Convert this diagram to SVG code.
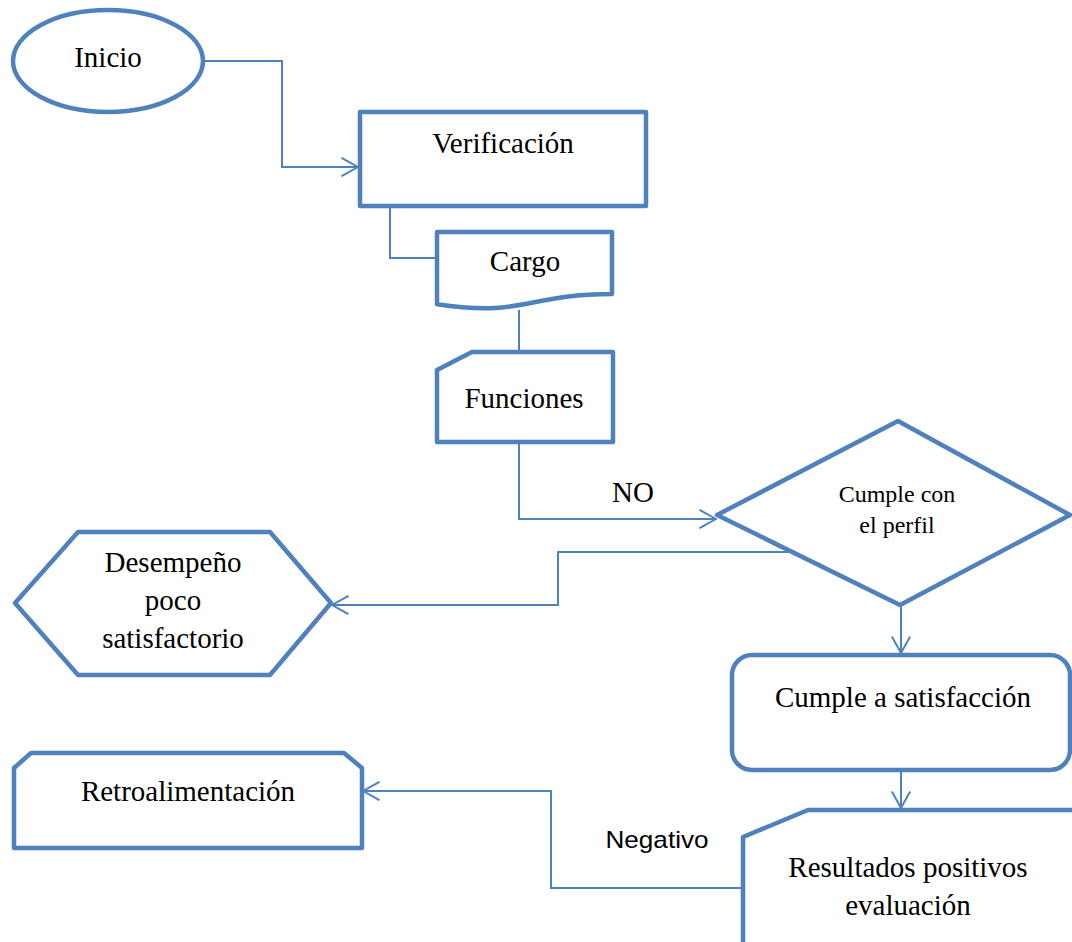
<svg xmlns="http://www.w3.org/2000/svg" width="1072" height="942" viewBox="0 0 1072 942">
  <style>
    .shape { fill: #ffffff; stroke: #4F81BD; stroke-width: 4.5; stroke-linejoin: round; }
    .link { fill: none; stroke: #4F81BD; stroke-width: 2; }
    .t { font-family: "Liberation Serif", "Times New Roman", serif; font-size: 29px; fill: #000000; text-anchor: middle; }
    .ts { font-family: "Liberation Serif", "Times New Roman", serif; font-size: 24px; fill: #000000; text-anchor: middle; }
    .lab { font-family: "Liberation Sans", Arial, sans-serif; font-size: 24px; fill: #000000; text-anchor: middle; }
  </style>
  <defs>
    <marker id="open" viewBox="0 0 18 20" refX="17" refY="10" markerWidth="18" markerHeight="20" markerUnits="userSpaceOnUse" orient="auto">
      <path d="M0.5,0.8 L17,10 L0.5,19.2" fill="none" stroke="#4F81BD" stroke-width="2"/>
    </marker>
  </defs>
  <rect width="1072" height="942" fill="#ffffff"/>

  <!-- connectors -->
  <g id="connectors">
    <polyline class="link" points="204,61 282,61 282,167 358,167" marker-end="url(#open)"/>
    <polyline class="link" points="390,206 390,258 437,258"/>
    <line class="link" x1="519" y1="310" x2="519" y2="352"/>
    <polyline class="link" points="519,442 519,519 716,519" marker-end="url(#open)"/>
    <polyline class="link" points="792,552 558,552 558,605 332,605" marker-end="url(#open)"/>
    <line class="link" x1="901" y1="605" x2="901" y2="653" marker-end="url(#open)"/>
    <line class="link" x1="901" y1="770" x2="901" y2="808" marker-end="url(#open)"/>
    <polyline class="link" points="743,888 551,888 551,791 363,791" marker-end="url(#open)"/>
    <text class="t" x="633" y="502">NO</text>
    <text class="lab" x="657" y="848" textLength="103" lengthAdjust="spacingAndGlyphs">Negativo</text>
  </g>

  <g id="inicio">
    <ellipse class="shape" cx="108" cy="61" rx="95" ry="51"/>
    <text class="t" x="108" y="67">Inicio</text>
  </g>

  <g id="verificacion">
    <rect class="shape" x="360" y="112" width="286" height="94"/>
    <text class="t" x="503" y="153">Verificación</text>
  </g>

  <g id="cargo">
    <path class="shape" d="M437,232 H612 V294 C525,294 525,317.6 437,304.2 Z"/>
    <text class="t" x="525" y="271">Cargo</text>
  </g>

  <g id="funciones">
    <path class="shape" d="M472,352 H613 V442 H437 V370 Z"/>
    <text class="t" x="524" y="408">Funciones</text>
  </g>

  <g id="decision">
    <polygon class="shape" points="717,515 898,421 1070,515 900,605"/>
    <text class="ts" x="897" y="502">Cumple con</text>
    <text class="ts" x="897" y="533">el perfil</text>
  </g>

  <g id="desempeno">
    <polygon class="shape" points="15,603 78,532 270,532 331,603 270,675 78,675"/>
    <text class="t" x="173" y="572">Desempeño</text>
    <text class="t" x="173" y="610">poco</text>
    <text class="t" x="173" y="648">satisfactorio</text>
  </g>

  <g id="cumple">
    <rect class="shape" x="732" y="655" width="338" height="115" rx="20" ry="20"/>
    <text class="t" x="903" y="707">Cumple a satisfacción</text>
  </g>

  <g id="resultados">
    <path class="shape" d="M808,810 H1080 V960 H743 V837 Z"/>
    <text class="t" x="908" y="877">Resultados positivos</text>
    <text class="t" x="908" y="915">evaluación</text>
  </g>

  <g id="retro">
    <path class="shape" d="M31,753 H344 L362,768 V848 H14 V768 Z"/>
    <text class="t" x="188" y="801">Retroalimentación</text>
  </g>
</svg>
